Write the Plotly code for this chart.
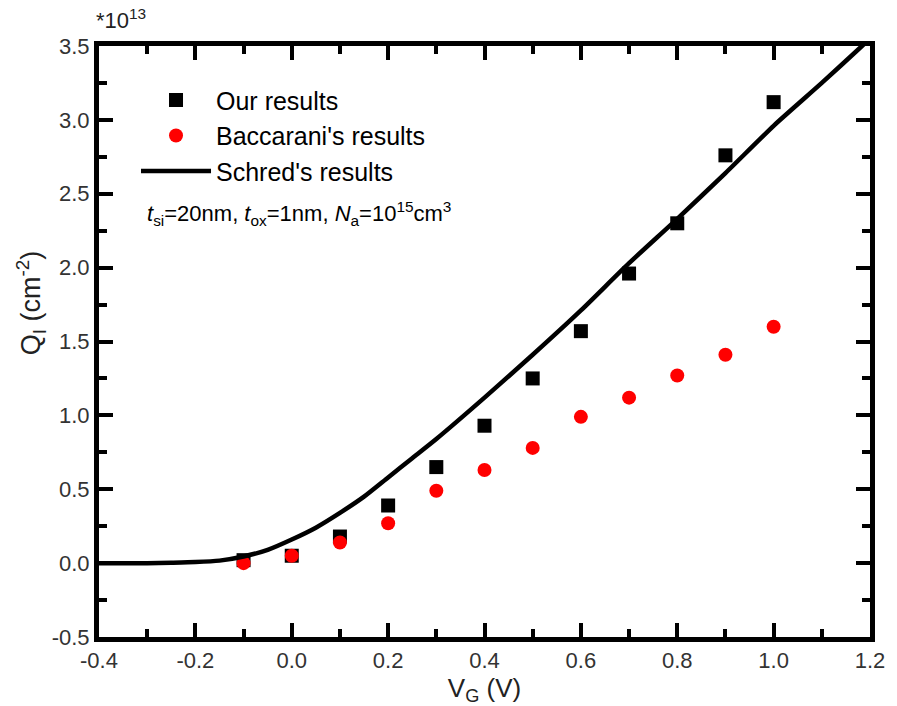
import plotly.graph_objects as go

# Gate voltage sample points (V) and inversion charge (x 1e13 cm^-2)
vg_points = [-0.1, 0.0, 0.1, 0.2, 0.3, 0.4, 0.5, 0.6, 0.7, 0.8, 0.9, 1.0]
our_results = [0.02, 0.05, 0.18, 0.39, 0.65, 0.93, 1.25, 1.57, 1.96, 2.30, 2.76, 3.12]
baccarani_results = [0.00, 0.05, 0.14, 0.27, 0.49, 0.63, 0.78, 0.99, 1.12, 1.27, 1.41, 1.60]

# Schred simulation curve
schred_vg = [-0.4, -0.3, -0.25, -0.2, -0.15, -0.1, -0.05, 0.0, 0.05, 0.1, 0.15,
             0.2, 0.25, 0.3, 0.4, 0.5, 0.6, 0.7, 0.8, 0.9, 1.0, 1.1, 1.18, 1.2]
schred_q = [0.0, 0.0, 0.003, 0.007, 0.017, 0.045, 0.09, 0.16, 0.24, 0.34, 0.45,
            0.58, 0.71, 0.84, 1.12, 1.41, 1.71, 2.03, 2.33, 2.64, 2.96, 3.25, 3.49, 3.55]

# Axis ranges, tick positions and labels (blank label = unlabelled minor tick)
x_range = [-0.4, 1.2]
y_range = [-0.5, 3.5]
x_all_ticks = [-0.4, -0.3, -0.2, -0.1, 0.0, 0.1, 0.2, 0.3, 0.4,
               0.5, 0.6, 0.7, 0.8, 0.9, 1.0, 1.1, 1.2]
x_all_labels = ["-0.4", "", "-0.2", "", "0.0", "", "0.2", "", "0.4",
                "", "0.6", "", "0.8", "", "1.0", "", "1.2"]
x_major_ticks = [-0.4, -0.2, 0.0, 0.2, 0.4, 0.6, 0.8, 1.0, 1.2]
y_all_ticks = [-0.5, -0.25, 0.0, 0.25, 0.5, 0.75, 1.0, 1.25, 1.5,
               1.75, 2.0, 2.25, 2.5, 2.75, 3.0, 3.25, 3.5]
y_all_labels = ["-0.5", "", "0.0", "", "0.5", "", "1.0", "", "1.5",
                "", "2.0", "", "2.5", "", "3.0", "", "3.5"]
y_major_ticks = [-0.5, 0.0, 0.5, 1.0, 1.5, 2.0, 2.5, 3.0, 3.5]

FONT = "Liberation Sans, Arial, sans-serif"

fig = go.Figure()
fig.add_trace(go.Scatter(
    x=vg_points, y=our_results, mode="markers", name="Our results",
    legendgroup="a",
    marker=dict(symbol="square", size=14, color="black", line=dict(width=0)),
))
fig.add_trace(go.Scatter(
    x=vg_points, y=baccarani_results, mode="markers", name="Baccarani's results",
    legendgroup="b",
    marker=dict(symbol="circle", size=14, color="#ff0000", line=dict(width=0)),
))
fig.add_trace(go.Scatter(
    x=schred_vg, y=schred_q, mode="lines", name="Schred's results",
    legendgroup="c",
    line=dict(color="black", width=4.5, shape="spline", smoothing=0.6),
))
# empty trace that keeps the overlay tick axes alive
fig.add_trace(go.Scatter(
    x=[None], y=[None], xaxis="x2", yaxis="y2", mode="markers",
    showlegend=False, hoverinfo="skip",
))

axis_common = dict(
    showline=True, linecolor="black", linewidth=5, mirror="allticks",
    ticks="inside", ticklen=8, tickwidth=4, tickcolor="black",
    showgrid=False, zeroline=False,
    tickfont=dict(family=FONT, size=22, color="#333333"),
)
overlay_common = dict(
    showticklabels=False, mirror="allticks",
    ticks="inside", ticklen=14, tickwidth=4, tickcolor="black",
    showgrid=False, zeroline=False, showline=False,
)

fig.update_layout(
    xaxis=dict(
        range=x_range, tickvals=x_all_ticks, ticktext=x_all_labels,
        title=dict(text="V<sub>G</sub> (V)",
                   font=dict(family=FONT, size=26, color="#222222"), standoff=2),
        **axis_common,
    ),
    yaxis=dict(
        range=y_range, tickvals=y_all_ticks, ticktext=y_all_labels,
        **axis_common,
    ),
    # overlay axes carrying the longer ticks at the labelled values
    xaxis2=dict(overlaying="x", anchor="y2", side="bottom", range=x_range,
                tickvals=x_major_ticks, **overlay_common),
    yaxis2=dict(overlaying="y", anchor="x2", side="left", range=y_range,
                tickvals=y_major_ticks, **overlay_common),
)

fig.add_annotation(
    text="Q<sub>I</sub> (cm<sup>-2</sup>)", textangle=-90,
    xref="paper", yref="paper", x=-0.088, y=0.565,
    xanchor="center", yanchor="middle",
    showarrow=False, font=dict(family=FONT, size=27, color="#222222"),
)
fig.add_annotation(
    text="*10<sup>13</sup>", xref="paper", yref="paper",
    x=-0.006, y=1.018, xanchor="left", yanchor="bottom",
    showarrow=False, font=dict(family=FONT, size=22, color="#222222"),
)
fig.add_annotation(
    text="<i>t</i><sub>si</sub>=20nm, <i>t</i><sub>ox</sub>=1nm, "
         "<i>N</i><sub>a</sub>=10<sup>15</sup>cm<sup>3</sup>",
    xref="paper", yref="paper", x=0.06, y=0.716,
    xanchor="left", yanchor="middle",
    showarrow=False, font=dict(family=FONT, size=22, color="black"),
)

fig.update_layout(
    width=897, height=706,
    margin=dict(l=99, r=16, t=46, b=64),
    paper_bgcolor="white", plot_bgcolor="white",
    showlegend=True,
    legend=dict(
        x=0.048, y=0.947, xanchor="left", yanchor="top",
        bgcolor="rgba(0,0,0,0)", borderwidth=0,
        font=dict(family=FONT, size=25, color="black"),
        itemwidth=70, tracegroupgap=0, traceorder="grouped",
    ),
)

fig.write_html("out.html")
